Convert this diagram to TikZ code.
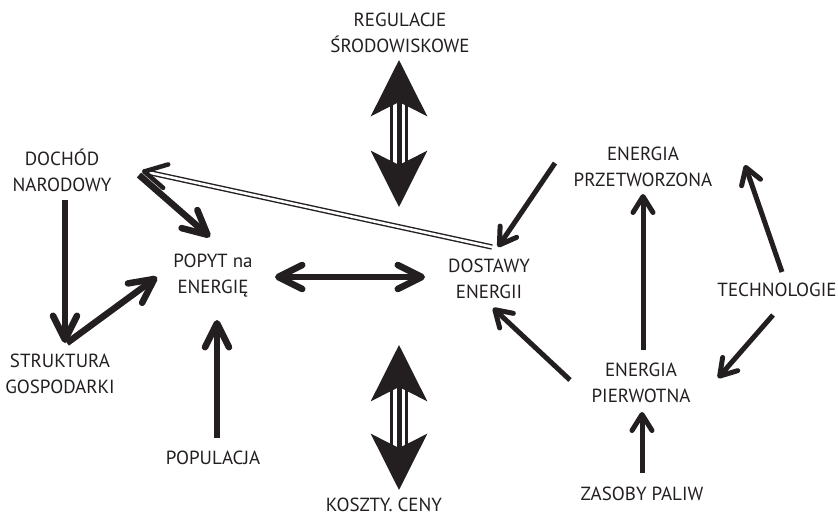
\documentclass[tikz,border=0pt]{standalone}
\usepackage{fontspec}
\setmainfont{PT Sans}
\usetikzlibrary{arrows.meta,calc}
\definecolor{ink}{HTML}{231F20}
\begin{document}
\begin{tikzpicture}[x=1pt,y=-1pt,
    lbl/.style={align=center,inner sep=0pt,text=ink,font=\fontsize{19}{26}\selectfont},
    thinarr/.style={draw=ink,line width=5pt,-{Straight Barb[length=16pt,width=20pt,round]}},
    thickarr/.style={draw=ink,line width=6.5pt,-{Straight Barb[length=24pt,width=24pt,round]}},
    bigarr/.style={draw=ink,line width=5pt,
      {Stealth[length=56pt,width=56pt,inset=14pt]}-{Stealth[length=56pt,width=56pt,inset=14pt]},
      preaction={draw=ink,-,line width=18pt,shorten <=44pt,shorten >=44pt},
      preaction={draw=white,-,line width=12pt,shorten <=44pt,shorten >=44pt}},
    dblline/.style={draw=ink,line width=1.4pt,double=white,double distance=2.6pt,shorten >=4pt},
    dblhead/.style={draw=ink,line width=4.5pt,-{Straight Barb[length=22pt,width=24pt,round]}}]
  \useasboundingbox (0,0) rectangle (838,516);
  \path
    (400,33) node[lbl] (regul) {REGULACJE\\ŚRODOWISKOWE}
    (62,170) node[lbl] (dochod) {DOCHÓD\\NARODOWY}
    (213,276) node[lbl] (popyt) {POPYT na\\ENERGIĘ}
    (489,279) node[lbl] (dostawy) {DOSTAWY\\ENERGII}
    (643,167) node[lbl] (przetw) {ENERGIA\\PRZETWORZONA}
    (777,290) node[lbl] (techno) {TECHNOLOGIE}
    (641,383) node[lbl] (pierw) {ENERGIA\\PIERWOTNA}
    (60,374) node[lbl] (strukt) {STRUKTURA\\GOSPODARKI}
    (213,458) node[lbl] (popul) {POPULACJA}
    (384,505) node[lbl] (koszty) {KOSZTY. CENY}
    (642,494) node[lbl] (zasoby) {ZASOBY PALIW};
  % arrow ends
  \coordinate (d1) at (65,200);   \coordinate (d2) at (65,343);
  \coordinate (s1) at (67,343);   \coordinate (s2) at (157,277);
  \coordinate (n1) at (139,175);  \coordinate (n2) at (210,237);
  \coordinate (e1) at (492,247);  \coordinate (e2) at (142,171);
  \coordinate (p1) at (275,277);  \coordinate (p2) at (425,277);
  \coordinate (u1) at (217,438);  \coordinate (u2) at (217,320);
  \coordinate (r1) at (399,60);   \coordinate (r2) at (399,207);
  \coordinate (k1) at (399,345);  \coordinate (k2) at (399,490);
  \coordinate (t1) at (555,163);  \coordinate (t2) at (498,247);
  \coordinate (w1) at (570,380);  \coordinate (w2) at (493,308);
  \coordinate (v1) at (643,350);  \coordinate (v2) at (643,194);
  \coordinate (h1) at (782,272);  \coordinate (h2) at (745,165);
  \coordinate (h3) at (773,315);  \coordinate (h4) at (718,378);
  \coordinate (z1) at (642,473);  \coordinate (z2) at (642,412);
  \begin{scope}
    \draw[thickarr] (d1) to (d2);
    \draw[thickarr] (s1) to (s2);
    \draw[thickarr] (n1) to (n2);
    \draw[thickarr,{Straight Barb[length=24pt,width=24pt,round]}-{Straight Barb[length=24pt,width=24pt,round]}] (p1) to (p2);
    \draw[thickarr] (u1) to (u2);
    \draw[dblline] (e1) to (e2);
    \draw[dblhead] ($(e2)!1pt!(e1)$) to (e2);
    \draw[bigarr] (r1) to (r2);
    \draw[bigarr] (k1) to (k2);
    \draw[thinarr] (t1) to (t2);
    \draw[thinarr] (w1) to (w2);
    \draw[thinarr] (v1) to (v2);
    \draw[thinarr] (h1) to (h2);
    \draw[thinarr] (h3) to (h4);
    \draw[thinarr] (z1) to (z2);
  \end{scope}
\end{tikzpicture}
\end{document}
